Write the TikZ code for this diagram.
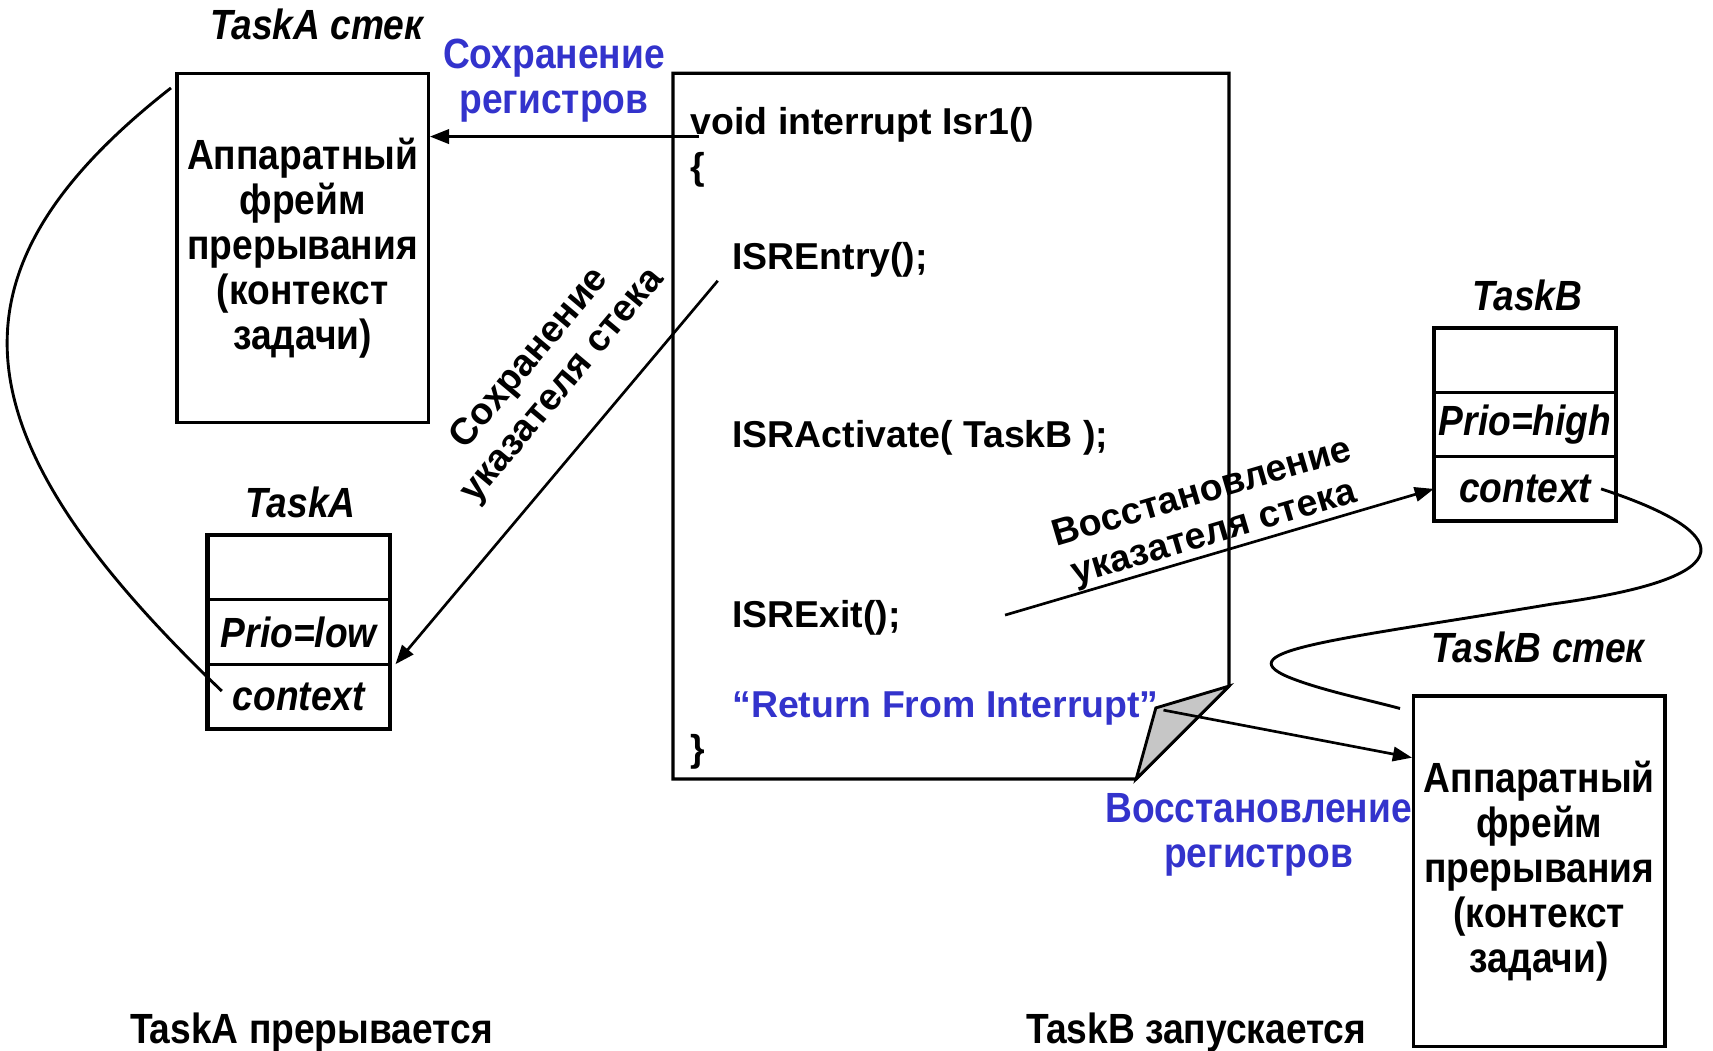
\documentclass[tikz,border=0pt]{standalone}
\usepackage{fontspec}
\setmainfont{Liberation Sans}
\newfontfamily\narrowfont[FakeStretch=0.88]{Liberation Sans}
\usetikzlibrary{arrows.meta,positioning,fit,calc}
\definecolor{regblue}{RGB}{51,51,204}

\begin{document}
\begin{tikzpicture}[x=0.2mm,y=-0.2mm,
  stack/.style={draw,line width=1.7pt,minimum width=46mm,minimum height=64mm,
                align=center,font=\narrowfont\bfseries\fontsize{22}{23.4}\selectfont},
  cell/.style={draw,line width=1.4pt,outer sep=0pt,inner sep=0pt,
               minimum width=33.4mm,minimum height=11.8mm,
               font=\narrowfont\bfseries\itshape\fontsize{22}{24}\selectfont},
  tcb/.style={draw,line width=2.2pt,inner sep=0pt},
  tasktitle/.style={font=\narrowfont\bfseries\itshape\fontsize{22}{24}\selectfont},
  bottomcap/.style={font=\narrowfont\bfseries\fontsize{22}{24}\selectfont},
  regs/.style={text=regblue,align=center,font=\narrowfont\bfseries\fontsize{22}{23.5}\selectfont},
  code/.style={anchor=base west,inner sep=0pt,font=\bfseries\fontsize{19.5}{22}\selectfont},
  slbl/.style={sloped,align=center,inner sep=0pt,font=\bfseries\fontsize{19.5}{22}\selectfont},
  arr/.style={-{Triangle[length=10pt,width=7.5pt]},line width=1.4pt},
  link/.style={line width=1.5pt},
  page/.style={draw,line width=1.7pt,line join=miter},
  fold/.style={draw,line width=1.5pt,fill=gray!45}
]
  \useasboundingbox (0,0) rectangle (1568,962);

  % Stacks
  \node[stack] (stackA) at (277,227) {Аппаратный\\фрейм\\прерывания\\(контекст\\задачи)};
  \node[stack,minimum height=64.2mm] (stackB) at (1409,797.5) {Аппаратный\\фрейм\\прерывания\\(контекст\\задачи)};
  \node[tasktitle] (stackAname) at (290,22) {TaskA стек};
  \node[tasktitle] (stackBname) at (1408,593) {TaskB стек};

  % Task control blocks
  \node[cell] (taTop) at (273.5,519.5) {};
  \node[cell,below=0pt of taTop] (taPrio) {Prio=low};
  \node[cell,below=0pt of taPrio] (taCtx) {context};
  \node[tcb,fit=(taTop)(taCtx)] (taBox) {};
  \node[tasktitle] (taName) at (275,460) {TaskA};

  \node[cell] (tbTop) at (1396,329.5) {};
  \node[cell,below=0pt of tbTop] (tbPrio) {Prio=high};
  \node[cell,below=0pt of tbPrio] (tbCtx) {context};
  \node[tcb,fit=(tbTop)(tbCtx)] (tbBox) {};
  \node[tasktitle] (tbName) at (1398,270) {TaskB};

  % ISR code page
  \draw[page] (616,67) -- (1125,67) -- (1125,628) -- (1040,713) -- (616,713) -- cycle;
  \filldraw[fold] (1125,628) -- (1058,648) -- (1040,713) -- cycle;
  \node[code] (lVoid) at (632,123) {void interrupt Isr1()};
  \node[code] (lOpen) at (632,164) {\{};
  \node[code] (lEntry) at (670,247) {ISREntry();};
  \node[code] (lAct) at (670,410) {ISRActivate( TaskB );};
  \node[code] (lExit) at (670,574) {ISRExit();};
  \node[code,text=regblue] (lRet) at (670,657) {“Return From Interrupt”};
  \node[code] (lClose) at (632,697) {\}};

  % Connectors
  \coordinate (saveRegs) at (640,125);
  \coordinate (entryPt) at (657,257);
  \coordinate (exitPt) at (920,563);
  \coordinate (rfiPt) at (1065,650);

  \draw[arr] (saveRegs) -- (saveRegs -| stackA.east);
  \draw[arr] (entryPt) -- node[slbl,pos=0.36,above=17pt]{Сохранение\\указателя стека} ([xshift=1mm]taPrio.south east);
  \draw[arr] (exitPt) -- node[slbl,above]{Восстановление\\указателя стека} (tbCtx.west);
  \draw[arr] (rfiPt) -- ($(stackB.north west)+(0,58)$);

  \draw[link] ([shift={(-4,15)}]stackA.north west) .. controls (-60,250) and (-40,400) .. ([shift={(13,-5)}]taCtx.west);
  \draw[link] ([xshift=-2.8mm]tbCtx.east) .. controls (1565,480) and (1625,525) .. (1420,553)
    .. controls (1230,585) and (1120,595) .. (1180,620)
    .. controls (1210,632) and (1250,640) .. ([shift={(-11,13)}]stackB.north west);

  % Labels
  \node[regs] (saveRegsLbl) at (507,74) {Сохранение\\регистров};
  \node[regs] (restRegsLbl) at (1152,764) {Восстановление\\регистров};
  \node[bottomcap] (aLeaves) at (285,945) {TaskA прерывается};
  \node[bottomcap] (bStarts) at (1095,945) {TaskB запускается};
\end{tikzpicture}
\end{document}
